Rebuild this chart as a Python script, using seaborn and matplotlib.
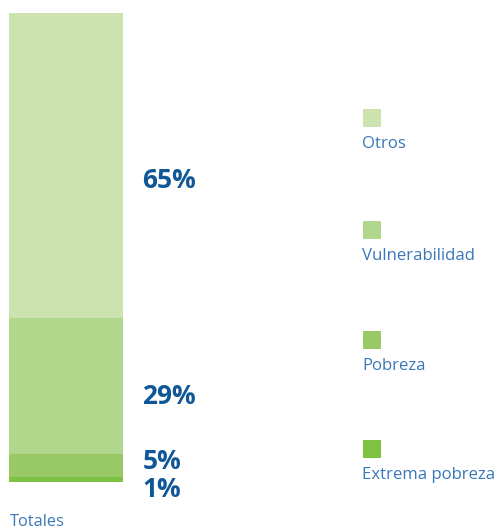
import matplotlib
matplotlib.use("Agg")
import matplotlib.pyplot as plt
from matplotlib.patches import Rectangle
import pandas as pd
import seaborn as sns

# === Data ===
categories = ["Extrema pobreza", "Pobreza", "Vulnerabilidad", "Otros"]
values = [1, 5, 29, 65]
colors = ["#7dc243", "#98c965", "#b1d78c", "#cce3b0"]
bar_label = "Totales"

TEXT_BLUE = "#3a78b8"
LABEL_BLUE = "#0f5797"

sns.set_theme(style="white")
plt.rcParams["font.family"] = ["Open Sans", "DejaVu Sans"]

W, H = 500, 532
fig = plt.figure(figsize=(W / 100, H / 100), dpi=100)

# bar area in pixels: x 9-123, y 13-482
ax = fig.add_axes([9 / W, (H - 482) / H, (123 - 9) / W, (482 - 13) / H])

# stacked bar: draw cumulative totals from tallest to shortest
cum = pd.Series(values).cumsum().tolist()
for i in reversed(range(len(values))):
    sns.barplot(x=[bar_label], y=[cum[i]], color=colors[i], width=1.0,
                saturation=1, edgecolor="none", linewidth=0, ax=ax)

ax.set_xlim(-0.5, 0.5)
ax.set_ylim(0, 100)
ax.axis("off")

# percentage labels (offsets in points so small segments don't collide)
offsets = [-7, 3, -8, -11]
for i, v in enumerate(values):
    centre = cum[i] - v / 2
    ax.annotate(f"{v}%", xy=(1, centre), xycoords=("axes fraction", "data"),
                xytext=(14, offsets[i]), textcoords="offset points",
                ha="left", va="center", fontsize=19, fontweight="bold",
                color=LABEL_BLUE, annotation_clip=False)

# category label under the bar
fig.text(10 / W, 1 - 522 / H, bar_label, ha="left", va="center",
         fontsize=11.8, color=TEXT_BLUE)

# legend: squares with label below
legend_rows = [118, 230, 340, 449]  # pixel y of square centres, top to bottom
for (cat, col), yc in zip(zip(reversed(categories), reversed(colors)), legend_rows):
    fig.add_artist(Rectangle((363 / W, 1 - (yc + 9) / H), 18 / W, 18 / H,
                             transform=fig.transFigure, color=col, lw=0))
    fig.text(362 / W, 1 - (yc + 26) / H, cat, ha="left", va="center",
             fontsize=12.1, color=TEXT_BLUE)

fig.savefig("out.png", dpi=100)
